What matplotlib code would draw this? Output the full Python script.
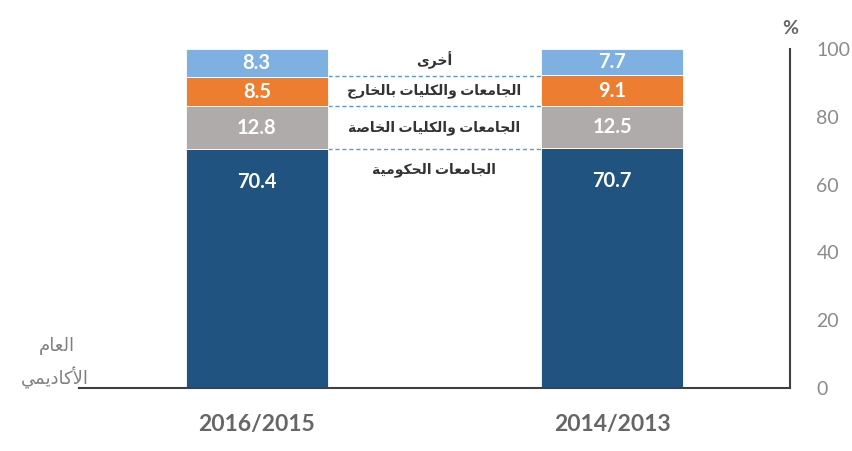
import numpy as np
import matplotlib
matplotlib.use("Agg")
import matplotlib.pyplot as plt

# data (bars drawn right-to-left like the original)
years = ["2016/2015", "2014/2013"]
government = [70.4, 70.7]
private = [12.8, 12.5]
abroad = [8.5, 9.1]
other = [8.3, 7.7]

cat_labels = ["الجامعات الحكومية", "الجامعات والكليات الخاصة",
              "الجامعات والكليات بالخارج", "أخرى"]
axis_label = ["العام", "الأكاديمي"]
y_ticks = [0, 20, 40, 60, 80, 100]

colors = ["#215381", "#AFABAB", "#ED7D31", "#7EB1E1"]

# --- minimal arabic shaping (matplotlib has no complex text layout) ---
DUAL = {
    'ب': 'ﺏﺐﺑﺒ', 'ت': 'ﺕﺖﺗﺘ', 'ج': 'ﺝﺞﺟﺠ', 'ح': 'ﺡﺢﺣﺤ',
    'خ': 'ﺥﺦﺧﺨ', 'ص': 'ﺹﺺﺻﺼ', 'ع': 'ﻉﻊﻋﻌ', 'ك': 'ﻙﻚﻛﻜ',
    'ل': 'ﻝﻞﻟﻠ', 'م': 'ﻡﻢﻣﻤ', 'ي': 'ﻱﻲﻳﻴ',
}
RIGHT = {
    'ا': 'ﺍﺎ', 'أ': 'ﺃﺄ', 'د': 'ﺩﺪ', 'ر': 'ﺭﺮ', 'و': 'ﻭﻮ',
    'ة': 'ﺓﺔ', 'ى': 'ﻯﻰ',
}
LAMALEF = {'ا': 'ﻻﻼ', 'أ': 'ﻷﻸ'}


def shape(s):
    out = []
    i = 0
    while i < len(s):
        c = s[i]
        prev_joins = i > 0 and s[i - 1] in DUAL
        if c == 'ل' and i + 1 < len(s) and s[i + 1] in LAMALEF:
            out.append(LAMALEF[s[i + 1]][1 if prev_joins else 0])
            i += 2
            continue
        nxt = s[i + 1] if i + 1 < len(s) else ''
        if c in DUAL:
            next_joins = nxt in DUAL or nxt in RIGHT
            if prev_joins and next_joins:
                out.append(DUAL[c][3])
            elif prev_joins:
                out.append(DUAL[c][1])
            elif next_joins:
                out.append(DUAL[c][2])
            else:
                out.append(DUAL[c][0])
        elif c in RIGHT:
            out.append(RIGHT[c][1 if prev_joins else 0])
        else:
            out.append(c)
        i += 1
    return ''.join(reversed(out))


plt.rcParams['font.family'] = ['Lato', 'DejaVu Sans']

fig = plt.figure(figsize=(8.52, 4.51), dpi=100)
ax = fig.add_axes([79 / 852, 63 / 451, 711 / 852, 339 / 451])

x = np.arange(len(years))
series = [government, private, abroad, other]
bottom = np.zeros(len(years))
tops = []
for vals, col in zip(series, colors):
    ax.bar(x, vals, 0.4, bottom=bottom, color=col, edgecolor="white",
           linewidth=0.6, zorder=2)
    for xi, b, v in zip(x, bottom, vals):
        if col == colors[0]:
            yy = b + v - 9.7
        else:
            yy = b + v / 2
        ax.text(xi, yy, f"{v}", ha="center", va="center", color="white",
                fontsize=14.5, fontweight="bold", zorder=3)
    bottom = bottom + np.array(vals)
    tops.append(bottom.copy())

# dashed connectors between the bars
for t in tops[:-1]:
    lvl = t.mean()
    ax.plot([0.18, 0.8], [lvl, lvl], ls=(0, (3, 2)), color="#5B9BD5",
            lw=1.0, zorder=1)

# category labels in the gap
bounds = [t.mean() for t in tops]
lab_y = [bounds[0] - 6, (bounds[0] + bounds[1]) / 2,
         (bounds[1] + bounds[2]) / 2, (bounds[2] + 100) / 2 + 0.8]
for lab, yy in zip(cat_labels, lab_y):
    ax.text(0.5, yy, shape(lab), ha="center", va="center", fontsize=10,
            fontweight="bold", color="#333333")

ax.set_xlim(-0.5, 1.5)
ax.set_ylim(0, 100)
ax.set_xticks(x)
ax.set_xticklabels(years, fontsize=16.5, fontweight="bold", color="#666666")
ax.tick_params(axis="x", length=0, pad=19)
ax.yaxis.tick_right()
ax.set_yticks(y_ticks)
ax.set_yticklabels([str(v) for v in y_ticks], fontsize=14, color="#8a8a8a")
ax.tick_params(axis="y", length=0, pad=19)
for side in ["top", "left"]:
    ax.spines[side].set_visible(False)
for side in ["right", "bottom"]:
    ax.spines[side].set_color("#404040")
    ax.spines[side].set_linewidth(1.5)

fig.text(790 / 852, 1 - 28 / 451, "%", ha="center", va="center",
         fontsize=14, fontweight="bold", color="#666666")
fig.text(57 / 852, 1 - 346 / 451, shape(axis_label[0]), ha="center",
         va="center", fontsize=13, color="#808080")
fig.text(55 / 852, 1 - 378 / 451, shape(axis_label[1]), ha="center",
         va="center", fontsize=13, color="#808080")

fig.savefig("out.png", dpi=100)
